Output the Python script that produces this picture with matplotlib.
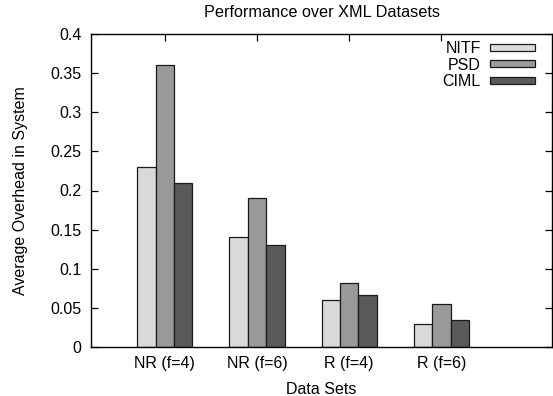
import matplotlib
matplotlib.use("Agg")
import matplotlib.pyplot as plt
import numpy as np
from matplotlib.patches import Patch

categories = ["NR (f=4)", "NR (f=6)", "R (f=4)", "R (f=6)"]
series_names = ["NITF", "PSD", "CIML"]
nitf = [0.23, 0.14, 0.06, 0.03]
psd = [0.36, 0.19, 0.082, 0.055]
ciml = [0.21, 0.13, 0.067, 0.035]
yticks = [0, 0.05, 0.1, 0.15, 0.2, 0.25, 0.3, 0.35, 0.4]
ytick_labels = ["0", "0.05", "0.1", "0.15", "0.2", "0.25", "0.3", "0.35", "0.4"]

colors = ["#d9d9d9", "#999999", "#5a5a5a"]

plt.rcParams['font.family'] = ['Liberation Sans', 'DejaVu Sans']
fs = 11.5
fig = plt.figure(figsize=(5.53, 3.96), dpi=100)
W, H = 553, 396
left, right, top, bottom = 91, 552, 34, 347
ax = fig.add_axes([left / W, (H - bottom) / H, (right - left) / W, (bottom - top) / H])

x = np.arange(len(categories))
bw = 0.2
handles = []
for i, (vals, name) in enumerate(zip([nitf, psd, ciml], series_names)):
    ax.bar(x + (i - 1) * bw, vals, width=bw, color=colors[i], edgecolor="#1a1a1a",
           linewidth=0.9, zorder=2)
    handles.append(Patch(facecolor=colors[i], edgecolor="#1a1a1a", linewidth=0.9, label=name))

ax.set_xlim(-0.8, 4.2)
ax.set_ylim(0, 0.4)
ax.set_xticks(x)
ax.set_xticklabels(categories, fontsize=fs)
ax.set_yticks(yticks)
ax.set_yticklabels(ytick_labels, fontsize=fs)
ax.tick_params(direction='in', length=5, width=0.9, top=True, right=True)
ax.tick_params(axis='x', pad=6.5)
ax.tick_params(axis='y', pad=7)
for s in ax.spines.values():
    s.set_linewidth(1.0)

ax.set_xlabel("Data Sets", fontsize=fs, labelpad=8)
ax.set_ylabel("Average Overhead in System", fontsize=fs, labelpad=16)
ax.set_title("Performance over XML Datasets", fontsize=11.7, pad=12)

leg = ax.legend(handles=handles, loc='upper right', bbox_to_anchor=(535 / W, (H - 41) / H),
                bbox_transform=fig.transFigure, frameon=False, markerfirst=False,
                fontsize=fs, handlelength=2.8, handleheight=0.3, handletextpad=0.6,
                labelspacing=0.1, borderaxespad=0, borderpad=0)
for t in leg.get_texts():
    t.set_ha('right')

fig.savefig("out.png", dpi=100)
